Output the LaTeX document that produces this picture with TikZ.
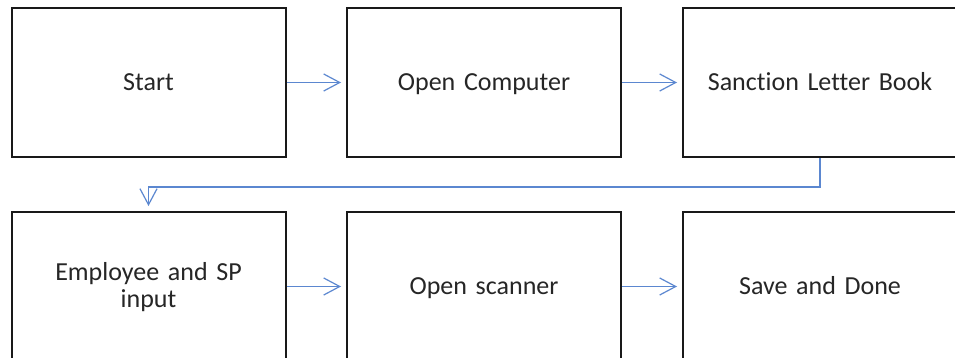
\documentclass[tikz,border=0pt]{standalone}
\usepackage{fontspec}
\setmainfont[Ligatures=CommonOff]{Carlito}
\usetikzlibrary{arrows.meta}
\definecolor{conn}{HTML}{5B87D0}
\definecolor{txt}{HTML}{262626}
\newcommand\tstrut{\rule[-6.9pt]{0pt}{29.4pt}}
\tikzset{
  box/.style={draw=black!90, line width=2pt, minimum width=274pt, minimum height=149pt,
    inner sep=0pt, font=\fontsize{26}{27}\selectfont, text=txt, align=center, text width=260pt},
  link/.style={draw=conn, line width=1.2pt, shorten >=5pt, -{Straight Barb[length=16pt,width=17pt,line width=1.2pt]}}
}
\begin{document}
\begin{tikzpicture}[x=1pt,y=-1pt]
\useasboundingbox (0,0) rectangle (955,358);
\clip (0,0) rectangle (955,358);
\fill[white] (0,0) rectangle (955,358);
\node[box] (start) at (148.5,82.5) {Start\tstrut};
\node[box] (comp) at (484,82.5) {Open Computer\tstrut};
\node[box] (slb) at (820,82.5) {Sanction Letter Book\tstrut};
\node[box] (emp) at (148.5,286.5) {Employee and SP\rule{0pt}{22.5pt}\\input\rule[-6.9pt]{0pt}{6.9pt}};
\node[box] (scan) at (484,286.5) {Open scanner\tstrut};
\node[box] (save) at (820,286.5) {Save and Done\tstrut};
\draw[link] (start.east) -- (comp.west);
\draw[link] (comp.east) -- (slb.west);
\draw[link] (emp.east) -- (scan.west);
\draw[link] (scan.east) -- (save.west);
\draw[link] (slb.south) -- ++(0,29) -| (emp.north);
\end{tikzpicture}
\end{document}
